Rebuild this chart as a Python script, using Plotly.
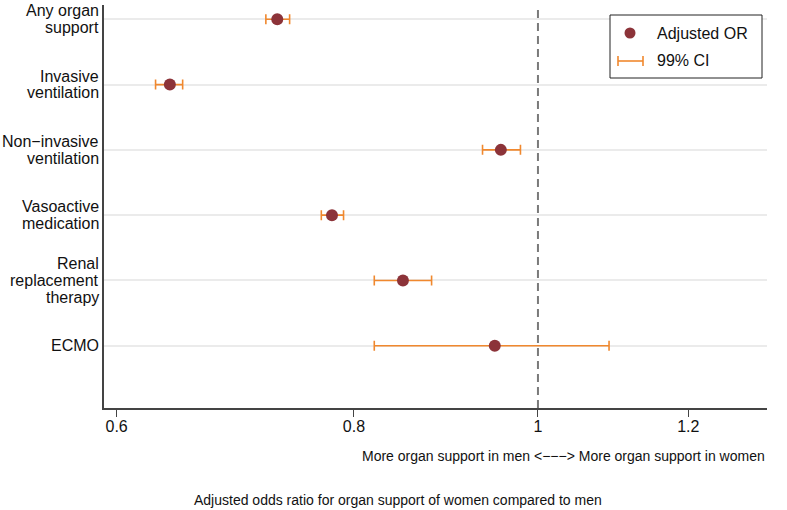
import plotly.graph_objects as go

# ---- data ----
outcomes = [
    "Any organ<br>support",
    "Invasive<br>ventilation",
    "Non−invasive<br>ventilation",
    "Vasoactive<br>medication",
    "Renal<br>replacement<br>therapy",
    "ECMO",
]
odds_ratio = [0.729, 0.640, 0.956, 0.779, 0.849, 0.949]
ci_low = [0.719, 0.629, 0.935, 0.769, 0.820, 0.820]
ci_high = [0.740, 0.650, 0.979, 0.790, 0.879, 1.090]
x_ticks = [0.6, 0.8, 1.0, 1.2]
x_tick_labels = ["0.6", "0.8", "1", "1.2"]
reference_or = 1.0

# positions: first outcome on top
y_pos = list(range(len(outcomes), 0, -1))
y_range = [0.046, 6.219]

MARKER = "#8C3339"
CI_COL = "#F0882E"
TXT = "#111111"
FONT = "Liberation Sans, Arial, Helvetica, sans-serif"

W, H = 787, 510
PL, PR, PT, PB = 104, 767, 5, 408          # plot area in page pixels
ML, MR, MT, MB = PL, W - PR, PT, H - PB
pw, ph = PR - PL, PB - PT


def px(x):
    return (x - PL) / pw


def py(y):
    return (PB - y) / ph


fig = go.Figure()

# reference line at OR = 1
fig.add_trace(go.Scatter(
    x=[reference_or, reference_or], y=y_range, mode="lines",
    line=dict(color="#7a7a7a", width=2, dash="8px,5px"),
    hoverinfo="skip", showlegend=False,
))

fig.add_trace(go.Scatter(
    x=odds_ratio, y=y_pos, mode="markers",
    marker=dict(color=MARKER, size=12),
    error_x=dict(
        type="data", symmetric=False,
        array=[h - o for h, o in zip(ci_high, odds_ratio)],
        arrayminus=[o - l for o, l in zip(odds_ratio, ci_low)],
        color=CI_COL, thickness=1.6, width=5,
    ),
    showlegend=False,
))

# ---- legend (drawn in paper space) ----
shapes = [
    dict(type="rect", xref="paper", yref="paper",
         x0=px(610), x1=px(762), y0=py(78), y1=py(15),
         line=dict(color="#222222", width=1), fillcolor="white"),
    dict(type="circle", xref="paper", yref="paper",
         xsizemode="pixel", ysizemode="pixel",
         xanchor=px(630), yanchor=py(33),
         x0=-5.5, x1=5.5, y0=-5.5, y1=5.5,
         line=dict(width=0), fillcolor=MARKER),
    dict(type="line", xref="paper", yref="paper",
         x0=px(618), x1=px(643), y0=py(61), y1=py(61),
         line=dict(color=CI_COL, width=1.6)),
    dict(type="line", xref="paper", yref="paper",
         x0=px(618), x1=px(618), y0=py(56), y1=py(66),
         line=dict(color=CI_COL, width=1.6)),
    dict(type="line", xref="paper", yref="paper",
         x0=px(643), x1=px(643), y0=py(56), y1=py(66),
         line=dict(color=CI_COL, width=1.6)),
]

annotations = [
    dict(text="Adjusted OR", xref="paper", yref="paper", x=px(655), y=py(33),
         xanchor="left", yanchor="middle", showarrow=False,
         font=dict(size=16, color=TXT)),
    dict(text="99% CI", xref="paper", yref="paper", x=px(655), y=py(61),
         xanchor="left", yanchor="middle", showarrow=False,
         font=dict(size=16, color=TXT)),
    dict(text="More organ support in men <−−−> More organ support in women",
         xref="paper", yref="paper", x=1.0, y=py(456),
         xanchor="right", yanchor="middle", showarrow=False,
         font=dict(size=14, color=TXT)),
    dict(text="Adjusted odds ratio for organ support of women compared to men",
         xref="paper", yref="paper", x=px(397.5), y=py(500),
         xanchor="center", yanchor="middle", showarrow=False,
         font=dict(size=14, color=TXT)),
]

# category labels, right-aligned next to the y axis, with tight line spacing
LINE_H = 16.8
for label, yv in zip(outcomes, y_pos):
    lines = label.split("<br>")
    n = len(lines)
    for i, ln in enumerate(lines):
        annotations.append(dict(
            text=ln, xref="paper", yref="y", x=0, y=yv,
            xanchor="right", yanchor="middle", xshift=-3,
            yshift=((n - 1) / 2 - i) * LINE_H, showarrow=False,
            font=dict(size=16, color=TXT),
        ))

fig.update_layout(
    width=W, height=H,
    margin=dict(l=ML, r=MR, t=MT, b=MB, pad=0),
    paper_bgcolor="white", plot_bgcolor="white",
    font=dict(family=FONT, size=16, color=TXT),
    shapes=shapes, annotations=annotations,
    showlegend=False,
)

fig.update_xaxes(
    type="log", range=[-0.2285, 0.1206],
    tickvals=x_ticks, ticktext=x_tick_labels,
    ticks="outside", ticklen=7, tickwidth=1.2, tickcolor="#444444",
    showline=True, linecolor="#444444", linewidth=1.5,
    showgrid=False, zeroline=False, ticklabelstandoff=-4,
    tickfont=dict(size=16, color=TXT),
)

fig.update_yaxes(
    range=y_range, tickvals=y_pos, ticktext=outcomes, showticklabels=False,
    ticks="", showline=True, linecolor="#444444", linewidth=1.5,
    showgrid=True, gridcolor="#ebebeb", gridwidth=1.5,
    zeroline=False,
)

# remove the browser's default 8px page margin so the figure fills the window
fig.write_html(
    "out.html",
    config={"displayModeBar": False},
    post_script="document.body.style.margin='0';document.body.style.overflow='hidden';",
)
